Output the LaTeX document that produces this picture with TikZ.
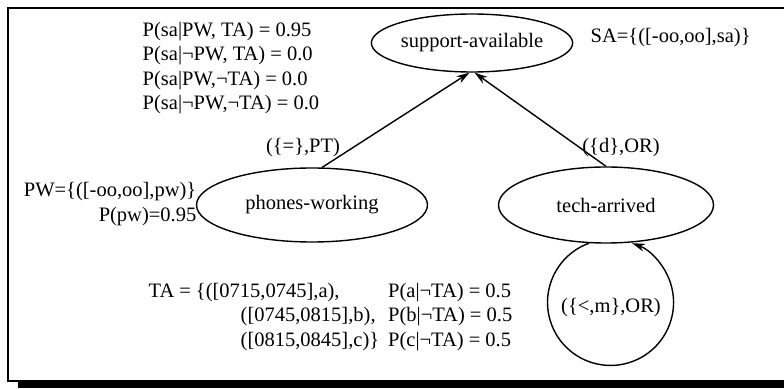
\documentclass[tikz,border=0pt]{standalone}
\usepackage{fontspec}
\setmainfont{Liberation Serif}
\usetikzlibrary{arrows.meta,shapes.geometric}

\begin{document}
\begin{tikzpicture}[x=1pt, y=1pt, line width=1.4pt, >={Stealth[length=13pt,width=8pt]},
    every node/.style={inner sep=0pt, font=\fontsize{20.5}{24.5}\selectfont},
    state/.style={draw, ellipse}]
    \useasboundingbox (0,0) rectangle (784,388);
    \clip (0,0) rectangle (784,388);
    \draw (795,380) -- (8,380) -- (8,7) -- (795,7);
    \fill (18,0) rectangle (795,6);

    \node [state, minimum width=200, minimum height=58] (sa) at (472,345) {support-available};
    \node [state, minimum width=231, minimum height=74] (pw) at (312,183) {phones-working};
    \node [state, minimum width=215, minimum height=76] (ta) at (606,183) {tech-arrived};

    \node [anchor=west, align=left] (cpt) at (142,320) {P(sa|PW, TA) = 0.95\\P(sa|¬PW, TA) = 0.0\\P(sa|PW,¬TA) = 0.0\\P(sa|¬PW,¬TA) = 0.0};
    \node [anchor=west] (sadom) at (590,350) {SA=\{([-oo,oo],sa)\}};
    \node [anchor=east, align=right] (pwdom) at (197,184) {PW=\{([-oo,oo],pw)\}\\P(pw)=0.95};
    \node [anchor=west] (tadom) at (148,71) {\begin{tabular}{@{}l@{\hspace{9pt}}l@{}}
        TA\hspace{5pt}=\hspace{5pt}\{([0715,0745],a), & P(a|¬TA) = 0.5\\
        \hspace{92pt}([0745,0815],b), & P(b|¬TA) = 0.5\\
        \hspace{92pt}([0815,0845],c)\} & P(c|¬TA) = 0.5
      \end{tabular}};

    \draw [->] (pw.75) -- (sa.265);
    \draw [->] (ta.north) -- (sa.275);
    \node (ptlab) at (303,240) {(\{=\},PT)};
    \node (orlab) at (621,240) {(\{d\},OR)};

    \draw [->] (ta.246) arc [start angle=110, delta angle=320, radius=63];
    \node (looplab) at (611,80) {(\{<,m\},OR)};
  \end{tikzpicture}
\end{document}
